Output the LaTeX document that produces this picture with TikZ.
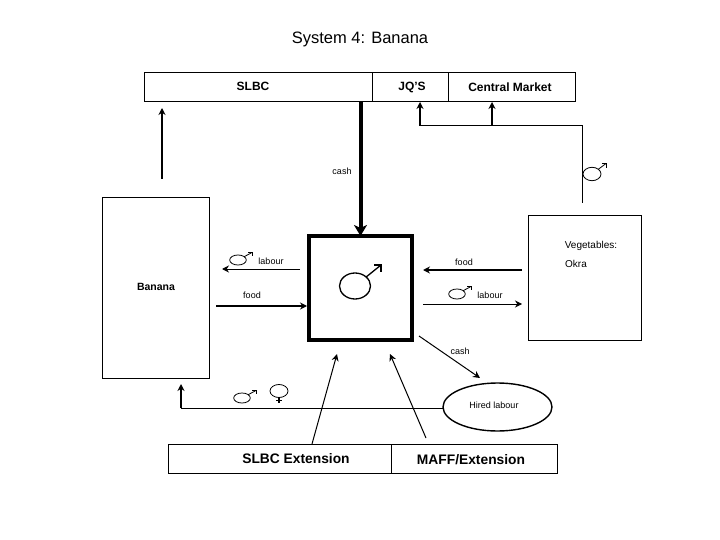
\documentclass[tikz,border=0pt]{standalone}
\usepackage{fontspec}
\setmainfont{Liberation Sans}
\usetikzlibrary{arrows.meta,shapes.geometric}
\newcommand{\fs}[1]{\fontsize{#1}{#1}\selectfont}
\tikzset{
  x=1pt,y=-1pt,
  box/.style={draw=black,line width=1pt,fill=white,inner sep=0pt,outer sep=0pt,anchor=north west},
  lab/.style={inner sep=0pt,font=\fs{9}},
  blab/.style={inner sep=0pt,font=\fs{12}\bfseries},
  tip/.style={-{Stealth[length=7pt,width=7pt]}},
  thin arrow/.style={tip,line width=1pt},
  mid arrow/.style={tip,line width=1.7pt},
  thick arrow/.style={-{Stealth[length=11pt,width=13pt,inset=3pt]},line width=4pt},
  symbol/.style={line width=.8pt},
  pics/male/.style n args={4}{code={
    \draw[symbol] (0,0) ellipse[x radius=#1,y radius=#2];
    \draw[symbol] (#3*.43,-#4*.43) -- (#3,-#4);
    \draw[symbol] (#3-#1*.45,-#4) -- (#3,-#4) -- (#3,-#4+#1*.45);
  }},
}
\begin{document}
\begin{tikzpicture}
\useasboundingbox (0,0) rectangle (720,540);
% top bar
\node[box,minimum width=228pt,minimum height=28.5pt] (slbc) at (144,72.7) {};
\node[box,minimum width=76pt,minimum height=28.5pt] (jqs) at (372,72.7) {};
\node[box,minimum width=127.7pt,minimum height=28.5pt] (market) at (448,72.7) {};
\node[inner sep=0pt,font=\fs{16.5}] (title) at (360,39) {System 4: Banana};
\node[blab] (tslbc) at (253,86.5) {SLBC};
\node[blab] (tjqs) at (412,87.5) {JQ'S};
\node[blab] (tmarket) at (510,87.5) {Central Market};
% main boxes
\node[box,minimum width=107pt,minimum height=180pt] (banana) at (102,198) {};
\node[inner sep=0pt,font=\fs{10.5}\bfseries] (tbanana) at (156,286.5) {Banana};
\node[box,line width=4pt,minimum width=103pt,minimum height=104pt] (farmer) at (309,236) {};
\node[box,minimum width=113pt,minimum height=124pt] (veg) at (528,216) {};
\node[lab,font=\fs{10}] (tveg) at (591,246) {Vegetables:};
\node[lab,font=\fs{10},anchor=west] (tokra) at (565,264) {Okra};
\node[draw=black,line width=1.4pt,ellipse,inner sep=0pt,outer sep=0pt,minimum width=109pt,minimum height=48pt] (hired) at (497.5,407) {};
\node[lab] (thired) at (494,405) {Hired labour};
\node[box,minimum width=223pt,minimum height=29pt] (ext) at (168,444) {};
\node[box,minimum width=166pt,minimum height=29pt] (maff) at (391,444) {};
\node[inner sep=0pt,font=\fs{13.8}\bfseries] (text) at (296,459) {SLBC Extension};
\node[inner sep=0pt,font=\fs{13.8}\bfseries] (tmaff) at (471,460) {MAFF/Extension};
% free ends
\coordinate (a1) at (162,179);
\coordinate (a2) at (162,108);
\coordinate (b1) at (582,203);
\coordinate (b2) at (582,126);
\coordinate (b3) at (420,126);
\coordinate (b4) at (420,102);
\coordinate (b5) at (492,126);
\coordinate (b6) at (492,102);
\coordinate (c1) at (300,269);
\coordinate (c2) at (222,269);
\coordinate (d1) at (216,306);
\coordinate (d2) at (307,306);
\coordinate (e1) at (522,270);
\coordinate (e2) at (423,270);
\coordinate (f1) at (423,304);
\coordinate (f2) at (522,304);
\coordinate (g1) at (419,336);
\coordinate (g2) at (480,378);
\coordinate (h1) at (443,408);
\coordinate (h2) at (181,408);
\coordinate (h3) at (181,384);
\coordinate (i1) at (312,444);
\coordinate (i2) at (337,354);
\coordinate (j1) at (426,438);
\coordinate (j2) at (390,354);
% connectors
\draw[mid arrow] (a1) -- (a2);
\draw[thick arrow] (slbc.south -| farmer.north) -- (farmer.north);
\draw[line width=1pt] (b1) -- (b2) -- (b3);
\draw[mid arrow] (b3) -- (b4);
\draw[mid arrow] (b5) -- (b6);
\draw[thin arrow] (c1) -- (c2);
\draw[mid arrow] (d1) -- (d2);
\draw[mid arrow] (e1) -- (e2);
\draw[thin arrow] (f1) -- (f2);
\draw[thin arrow] (g1) -- (g2);
\draw[line width=1pt] (h1) -- (h2);
\draw[mid arrow] (h2) -- (h3);
\draw[thin arrow] (i1) -- (i2);
\draw[thin arrow] (j1) -- (j2);
% labels
\node[lab] (tcash1) at (342,171) {cash};
\node[lab] (tlab1) at (271,261) {labour};
\node[lab] (tfood1) at (252,295) {food};
\node[lab] (tfood2) at (464,262) {food};
\node[lab] (tlab2) at (490,295) {labour};
\node[lab] (tcash2) at (460,351) {cash};
% gender symbols
\pic[symbol/.append style={line width=1.3pt}] at (355,286) {male={15.5}{13}{26}{21}};
\pic at (238,260) {male={8.3}{5}{14}{7.5}};
\pic at (457,294) {male={8.3}{5}{14}{7.5}};
\pic at (242,398) {male={8.3}{5}{14}{7.5}};
\pic at (592,174) {male={9}{6.7}{14}{10.5}};
\draw[symbol] (279,391) ellipse[x radius=9,y radius=6.5];
\draw[symbol,line width=1.2pt] (279,397.5) -- (279,403) (276,400.5) -- (282,400.5);
\end{tikzpicture}
\end{document}
